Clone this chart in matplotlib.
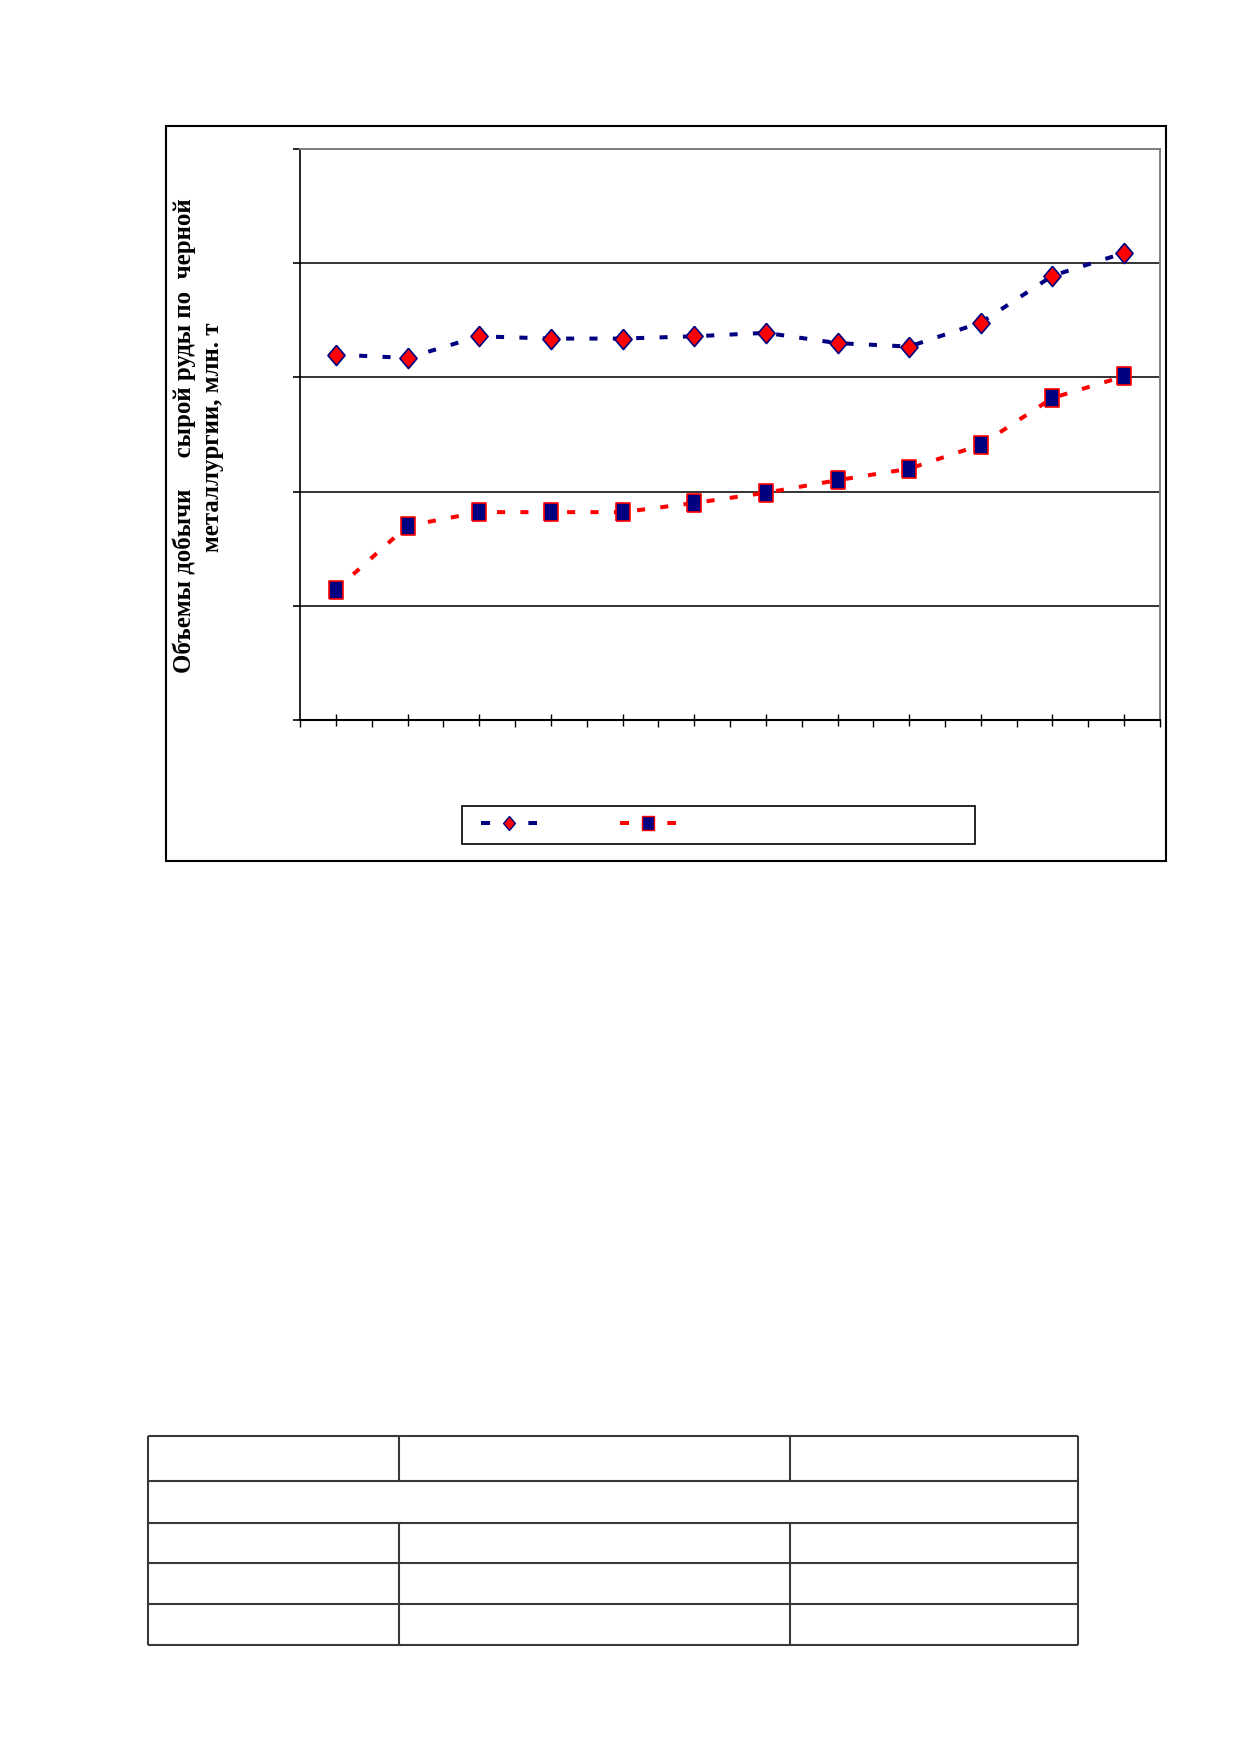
import matplotlib
matplotlib.use("Agg")
import matplotlib.pyplot as plt
import numpy as np
from matplotlib.lines import Line2D
from matplotlib.patches import Rectangle

# values (12 years, no labels shown in the picture)
raw_ore = [160, 158.5, 168, 167, 167, 168, 169.5, 165, 163.5, 174, 194.5, 204.5]
commercial_ore = [57, 85, 91, 91, 91, 95, 99.5, 105, 110, 120.5, 141, 150.5]
y_ticks = [0, 50, 100, 150, 200, 250]

ylabel_1 = "Объемы добычи     сырой руды по  черной"
ylabel_2 = "металлургии, млн. т"

W, H = 1239, 1752
NAVY = "#000080"
RED = "#FF0000"

diamond = [(0, 1), (0.85, 0), (0, -1), (-0.85, 0), (0, 1)]
square = [(-0.8, -1), (0.8, -1), (0.8, 1), (-0.8, 1), (-0.8, -1)]

fig = plt.figure(figsize=(W / 100, H / 100), dpi=100)

# page overlay in pixel coordinates: outer chart frame and the empty table
page = fig.add_axes([0, 0, 1, 1], zorder=0)
page.set_xlim(0, W)
page.set_ylim(H, 0)
page.axis("off")
page.add_patch(Rectangle((165.5, 126), 1000.5, 735, fill=False, ec="black", lw=1.5))
page.add_patch(Rectangle((462, 806), 513, 38, fill=False, ec="black", lw=1.2))

tbl_cols = [148, 399, 790, 1078]
tbl_rows = [1436, 1481, 1523, 1563, 1604, 1645]
tbl_color = "#3a3a3a"
page.hlines(tbl_rows, tbl_cols[0], tbl_cols[-1], color=tbl_color, lw=1.5)
page.vlines([tbl_cols[0], tbl_cols[-1]], tbl_rows[0], tbl_rows[-1], color=tbl_color, lw=1.5)
for c in tbl_cols[1:-1]:
    page.vlines(c, tbl_rows[0], tbl_rows[1], color=tbl_color, lw=1.5)
    page.vlines(c, tbl_rows[2], tbl_rows[-1], color=tbl_color, lw=1.5)

# chart
ax = fig.add_axes([300 / W, 1 - 720 / H, 860 / W, 571 / H], zorder=1)
x = np.arange(len(raw_ore))

ax.plot(x, raw_ore, color=NAVY, lw=2.9, dashes=(2.0, 3.8),
        marker=diamond, ms=14.5, mfc=RED, mec=NAVY, mew=1.2)
ax.plot(x, commercial_ore, color=RED, lw=2.9, dashes=(2.0, 3.8),
        marker=square, ms=12.6, mfc=NAVY, mec=RED, mew=1.2)

ax.set_xlim(-0.5, len(raw_ore) - 0.5)
ax.set_ylim(y_ticks[0], y_ticks[-1])
ax.set_yticks(y_ticks)
ax.set_yticklabels([])
ax.set_xticks(x)
ax.set_xticks(np.arange(len(raw_ore) + 1) - 0.5, minor=True)
ax.set_xticklabels([])
ax.tick_params(axis="y", direction="out", length=5, width=1.2, color="black")
ax.tick_params(axis="x", which="major", direction="inout", length=9, width=1.0)
ax.tick_params(axis="x", which="minor", direction="out", length=5, width=1.0)

ax.grid(axis="y", color="#101010", lw=1.2)
ax.set_axisbelow(True)
ax.spines["left"].set_linewidth(1.2)
ax.spines["bottom"].set_linewidth(1.5)
for s in ("top", "right"):
    ax.spines[s].set_color("#808080")
    ax.spines[s].set_linewidth(1.4)

fig.text(184 / W, 1 - 436 / H, ylabel_1, rotation=90, ha="center", va="center",
         family="Liberation Serif", weight="bold", fontsize=17.9)
fig.text(213 / W, 1 - 437 / H, ylabel_2, rotation=90, ha="center", va="center",
         family="Liberation Serif", weight="bold", fontsize=17.9)

# legend (labels are blank in the original)
h1 = Line2D([], [], color=NAVY, lw=2.9, dashes=(2.25, 9.5),
            marker=diamond, ms=10, mfc=RED, mec=NAVY, mew=1.0)
h2 = Line2D([], [], color=RED, lw=2.9, dashes=(2.25, 9.5),
            marker=square, ms=10, mfc=NAVY, mec=RED, mew=1.0)
fig.legend([h1, h2], ["", ""], ncol=2, frameon=False, fontsize=10,
           loc="center left", bbox_to_anchor=(481 / W, 1 - 824 / H),
           borderpad=0, borderaxespad=0, handlelength=4.03,
           handletextpad=0.8, columnspacing=5.17)

fig.savefig("out.png", dpi=100)
